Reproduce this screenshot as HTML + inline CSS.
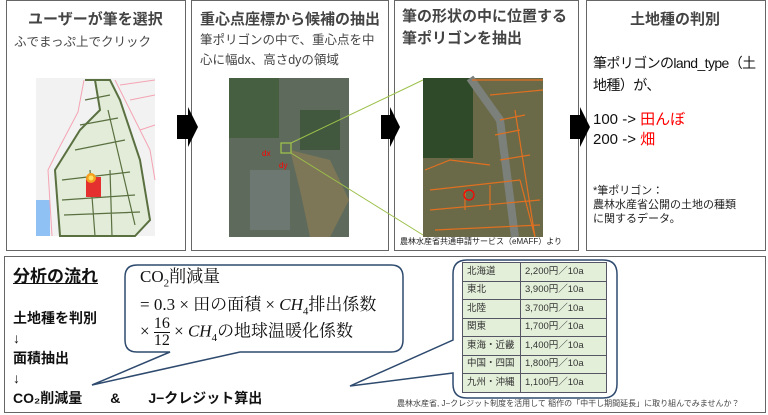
<!DOCTYPE html>
<html><head><meta charset="utf-8"><style>
*{margin:0;padding:0;box-sizing:border-box}
body{width:768px;height:415px;background:#fff;position:relative;overflow:hidden;font-family:"Liberation Sans","Noto Sans CJK JP",sans-serif;color:#333}
.p{position:absolute;border:1.5px solid #666;background:#fff}
.t{position:absolute;font-weight:bold;font-size:15px;color:#444;white-space:nowrap}
.s{position:absolute;font-size:12.5px;color:#444;line-height:20px;white-space:nowrap}
.ab{position:absolute}
table{border-collapse:collapse;font-size:9.5px;table-layout:fixed;width:144px}
td{border:1px solid #556;background:#e3efd9;height:18.5px;padding:0 4px;color:#333;white-space:nowrap;overflow:hidden;line-height:12px}
</style></head><body>
<div class="p" style="left:6px;top:0;width:180px;height:251px"></div>
<div class="p" style="left:191px;top:0;width:198px;height:251px"></div>
<div class="p" style="left:394px;top:0;width:185px;height:251px"></div>
<div class="p" style="left:586px;top:0;width:180px;height:251px"></div>
<div class="p" style="left:4px;top:256px;width:762px;height:157px"></div>

<div class="t" style="left:28px;top:8px">ユーザーが筆を選択</div>
<div class="s" style="left:14px;top:32px">ふでまっぷ上でクリック</div>
<div class="t" style="left:200px;top:8px">重心点座標から候補の抽出</div>
<div class="s" style="left:200px;top:30px">筆ポリゴンの中で、重心点を中<br>心に幅dx、高さdyの領域</div>
<div class="t" style="left:402px;top:6px;line-height:22px">筆の形状の中に位置する<br>筆ポリゴンを抽出</div>
<div class="t" style="left:630px;top:8px">土地種の判別</div>
<div class="s" style="left:593px;top:52px;font-size:14px;letter-spacing:-0.6px;line-height:22px;color:#111">筆ポリゴンのland_type（土<br>地種）が、</div>
<div class="s" style="left:593px;top:110px;font-size:15px;line-height:20px;color:#111">100 -&gt; <span style="color:#f00">田んぼ</span><br>200 -&gt; <span style="color:#f00">畑</span></div>
<div class="s" style="left:593px;top:184px;font-size:11px;line-height:14px;color:#222">*筆ポリゴン：<br>農林水産省公開の土地の種類<br>に関するデータ。</div>
<div class="s" style="left:400px;top:236px;font-size:8px;line-height:12px;color:#222">農林水産省共通申請サービス（eMAFF）より</div>

<svg class="ab" style="left:0;top:0" width="768" height="415">
<polygon points="177,115 188,115 188,107 198,127 188,147 188,139 177,139" fill="#000"/>
<polygon points="381,115 390,115 390,107 400,127 390,147 390,139 381,139" fill="#000"/>
<polygon points="570,115 580,115 580,107 590,127 580,147 580,139 570,139" fill="#000"/>
<rect x="36" y="78" width="119" height="158" fill="#f2f2f2"/>
<path d="M36,200 h14 v36 h-14z" fill="#8fc1f5"/>
<path d="M85,80 L95,80 L100,110 L80,130 L55,170 L60,236 L135,236 L150,220 L140,160 L120,100 L110,80z" fill="#e2ecd8" stroke="#5a7040" stroke-width="2"/>
<g stroke="#5a7040" stroke-width="1.2" fill="none">
<path d="M62,180 L130,172 M62,200 L135,195 M64,215 L140,212 M85,100 L110,95 M80,125 L118,118 M75,150 L125,140 M90,170 L95,236 M110,170 L112,236 M108,110 L135,225"/>
</g>
<path d="M84,80 L78,112 L58,150 L48,170 L52,236 M115,80 L130,110 L150,150 L155,180 M120,85 L155,80 M130,100 L155,95 M140,130 L155,125" stroke="#f4a3b3" stroke-width="1" fill="none"/>
<rect x="86" y="177" width="15" height="20" fill="#e53030"/>
<circle cx="91" cy="178" r="5" fill="#f5a020"/><circle cx="91" cy="178" r="2.5" fill="#ffe060"/>
<rect x="229" y="78" width="120" height="159" fill="#5e6b5c"/>
<rect x="229" y="78" width="50" height="60" fill="#3d5a36" opacity=".7"/>
<rect x="300" y="110" width="40" height="40" fill="#2f4a2a" opacity=".6"/>
<path d="M290,150 L330,160 L349,200 L330,237 L310,237 L300,190z" fill="#8a7a55" opacity=".7"/>
<rect x="250" y="170" width="40" height="60" fill="#7a8080" opacity=".6"/>
<rect x="281" y="143" width="10" height="10" fill="none" stroke="#9cc04a" stroke-width="1.3"/>
<text x="262" y="156" fill="#f00" font-size="8">dx</text><text x="279" y="168" fill="#f00" font-size="8">dy</text>
<line x1="291" y1="143" x2="423" y2="80" stroke="#9cc04a" stroke-width="1"/>
<line x1="291" y1="153" x2="423" y2="235" stroke="#9cc04a" stroke-width="1"/>
<rect x="423" y="78" width="120" height="159" fill="#6a6a48"/>
<rect x="423" y="78" width="50" height="80" fill="#2e4a28"/>
<path d="M470,78 L500,120 L515,237" stroke="#7c807a" stroke-width="8" fill="none"/>
<g stroke="#e07020" stroke-width="1.2" fill="none">
<path d="M472,80 L543,80 M490,95 L543,90 M500,120 L525,115 M495,135 L520,130 M500,160 L530,155 M430,190 L520,180 M430,210 L540,200 M435,230 L540,225 M465,190 L465,210 M490,185 L490,210 M520,180 L535,237 M515,110 L535,237 M425,170 L450,160 L490,165"/>
</g>
<circle cx="469" cy="195" r="5" fill="none" stroke="#f00" stroke-width="1.2"/>
<path d="M137,265 H391 Q403,265 403,277 V340 Q403,352 391,352 H240 L92,385 L170,352 H137 Q125,352 125,340 V277 Q125,265 137,265Z" fill="#fff" stroke="#2e4a6e" stroke-width="1.5"/>
<path d="M467,260 H603 Q617,260 617,274 V384 Q617,398 603,398 H467 Q453,398 453,384 V373 L350,386 L453,340 V274 Q453,260 467,260Z" fill="#fff" stroke="#2e4a6e" stroke-width="1.5"/>
</svg>

<div class="s" style="left:140px;top:266px;font-family:'Liberation Serif','Noto Serif CJK SC',serif;font-size:17px;line-height:22px;color:#111">CO<sub style="font-size:11px">2</sub>削減量<br>= 0.3 × 田の面積 × <i>CH</i><sub style="font-size:11px">4</sub>排出係数</div>
<div class="s" style="left:140px;top:316px;font-family:'Liberation Serif','Noto Serif CJK SC',serif;font-size:17px;line-height:22px;color:#111">× <span style="display:inline-block;vertical-align:middle;text-align:center;line-height:16px;font-size:16px"><span style="display:block;border-bottom:1px solid #111">16</span>12</span> × <i>CH</i><sub style="font-size:11px">4</sub>の地球温暖化係数</div>

<div class="t" style="left:13px;top:262px;font-size:17px;color:#111;text-decoration:underline">分析の流れ</div>
<div class="t" style="left:13px;top:308px;font-size:14px;line-height:20px;color:#111">土地種を判別<br>↓<br>面積抽出<br>↓<br>CO₂削減量　　&amp;　　J−クレジット算出</div>

<div class="ab" style="left:462px;top:262px">
<table>
<colgroup><col style="width:58px"><col style="width:86px"></colgroup>
<tr><td>北海道</td><td>2,200円／10a</td></tr>
<tr><td>東北</td><td>3,900円／10a</td></tr>
<tr><td>北陸</td><td>3,700円／10a</td></tr>
<tr><td>関東</td><td>1,700円／10a</td></tr>
<tr><td>東海・近畿</td><td>1,400円／10a</td></tr>
<tr><td>中国・四国</td><td>1,800円／10a</td></tr>
<tr><td>九州・沖縄</td><td>1,100円／10a</td></tr>
</table></div>
<div class="s" style="left:397px;top:398px;font-size:8px;line-height:12px;color:#444">農林水産省, J−クレジット制度を活用して 稲作の「中干し期間延長」に取り組んでみませんか？</div>
</body></html>
